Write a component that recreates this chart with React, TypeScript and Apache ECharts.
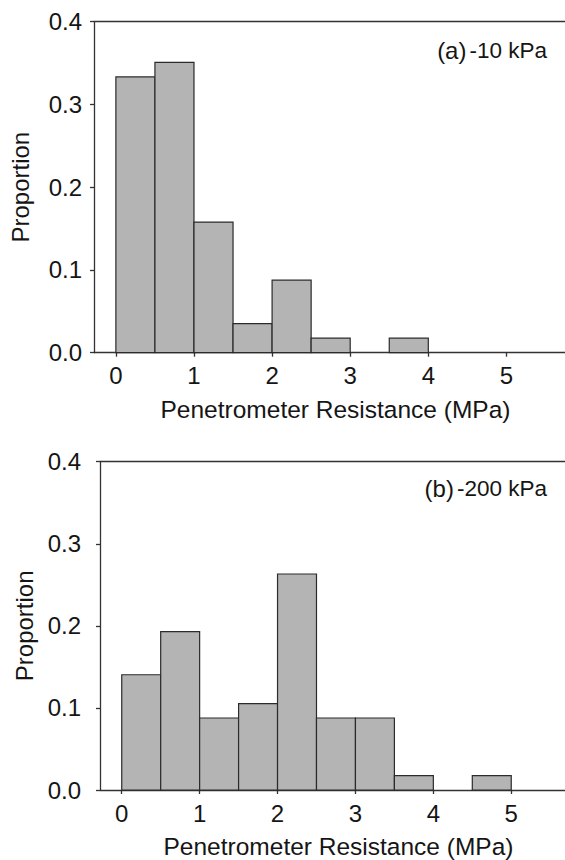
import React, { useEffect, useRef } from "react";
import * as echarts from "echarts";

// Histogram bin edges (MPa)
const binEdges = [0, 0.5, 1, 1.5, 2, 2.5, 3, 3.5, 4, 4.5, 5];
// Proportions per bin, panel (a) -10 kPa
const proportionA = [0.3333, 0.3509, 0.1579, 0.0351, 0.0877, 0.0175, 0, 0.0175, 0, 0];
// Proportions per bin, panel (b) -200 kPa
const proportionB = [0.1404, 0.193, 0.0877, 0.1053, 0.2632, 0.0877, 0.0877, 0.0175, 0, 0.0175];
const xTickValues = [0, 1, 2, 3, 4, 5];
const panelLabels = [
  { tag: "(a)", text: "-10 kPa" },
  { tag: "(b)", text: "-200 kPa" },
];
const xTitle = "Penetrometer Resistance (MPa)";
const yTitle = "Proportion";

const FONT = "'Liberation Sans', Arial, Helvetica, sans-serif";
const TXT = "#151515";
const AX = "#333333";

function toData(vals: number[]) {
  const out: number[][] = [];
  vals.forEach((v, i) => {
    if (v > 0) out.push([binEdges[i], binEdges[i + 1], v]);
  });
  return out;
}

export default function App() {
  const ref = useRef<HTMLDivElement>(null);
  useEffect(() => {
    document.body.style.margin = "0";
    if (!ref.current) return;
    const chart = echarts.init(ref.current, null, { renderer: "svg" });

    const grids = [
      { left: 92, top: 21.7, width: 473, height: 331 },
      { left: 100, top: 461.7, width: 465, height: 328.3 },
    ];
    const xRanges = [
      [-0.28, 5.75],
      [-0.279, 5.69],
    ];
    const yLabelMargin = [12, 19];

    const xAxes: any[] = [];
    const yAxes: any[] = [];
    [0, 1].forEach((g) => {
      xAxes.push({
        type: "value",
        gridIndex: g,
        min: xRanges[g][0],
        max: xRanges[g][1],
        position: "bottom",
        name: xTitle,
        nameLocation: "middle",
        nameGap: 44,
        nameTextStyle: { fontFamily: FONT, fontSize: 24.5, color: TXT, padding: [0, 0, 0, 12] },
        axisLine: { show: true, onZero: false, lineStyle: { color: AX, width: 1.3 } },
        axisTick: {
          show: true,
          customValues: xTickValues,
          length: 4,
          inside: false,
          lineStyle: { color: AX, width: 1.3 },
        },
        axisLabel: {
          customValues: xTickValues,
          fontFamily: FONT,
          fontSize: 24,
          color: TXT,
          margin: 11,
        },
        splitLine: { show: false },
      });
      xAxes.push({
        type: "value",
        gridIndex: g,
        min: xRanges[g][0],
        max: xRanges[g][1],
        position: "top",
        axisLine: { show: true, onZero: false, lineStyle: { color: AX, width: 1.3 } },
        axisTick: { show: false },
        axisLabel: { show: false },
        splitLine: { show: false },
      });
      yAxes.push({
        type: "value",
        gridIndex: g,
        min: 0,
        max: 0.4,
        interval: 0.1,
        position: "left",
        name: yTitle,
        nameLocation: "middle",
        nameGap: 62,
        nameRotate: 90,
        nameTextStyle: { fontFamily: FONT, fontSize: 24, color: TXT },
        axisLine: { show: true, onZero: false, lineStyle: { color: AX, width: 1.3 } },
        axisTick: { show: true, length: 4, inside: false, lineStyle: { color: AX, width: 1.3 } },
        axisLabel: {
          fontFamily: FONT,
          fontSize: 24,
          color: TXT,
          margin: yLabelMargin[g],
          formatter: (v: number) => v.toFixed(1),
        },
        splitLine: { show: false },
      });
    });

    const renderItem = (params: any, api: any) => {
      const x0 = api.value(0);
      const x1 = api.value(1);
      const v = api.value(2);
      const p0 = api.coord([x0, v]);
      const p1 = api.coord([x1, 0]);
      return {
        type: "rect",
        shape: { x: p0[0], y: p0[1], width: p1[0] - p0[0], height: p1[1] - p0[1] },
        style: { fill: "#b4b4b4", stroke: "#2b2b2b", lineWidth: 1.2 },
      };
    };

    const series = [proportionA, proportionB].map((vals, g) => ({
      type: "custom",
      xAxisIndex: g * 2,
      yAxisIndex: g,
      renderItem,
      encode: { x: [0, 1], y: 2 },
      data: toData(vals),
      z: 1,
    }));

    const annY = [52.5, 490];
    const graphic = panelLabels.map((p, g) => ({
      type: "text",
      right: 18,
      top: annY[g] - 14,
      style: {
        text: `{a|${p.tag}}{b|${p.text}}`,
        rich: {
          a: { fontFamily: FONT, fontSize: 24, fill: TXT, padding: [0, 3, 0, 0] },
          b: { fontFamily: FONT, fontSize: 22.5, fill: TXT },
        },
      },
    }));

    chart.setOption({
      animation: false,
      backgroundColor: "#ffffff",
      grid: grids,
      xAxis: xAxes,
      yAxis: yAxes,
      series,
      graphic,
    });
    return () => chart.dispose();
  }, []);
  return <div ref={ref} style={{ width: 565, height: 860 }} />;
}
